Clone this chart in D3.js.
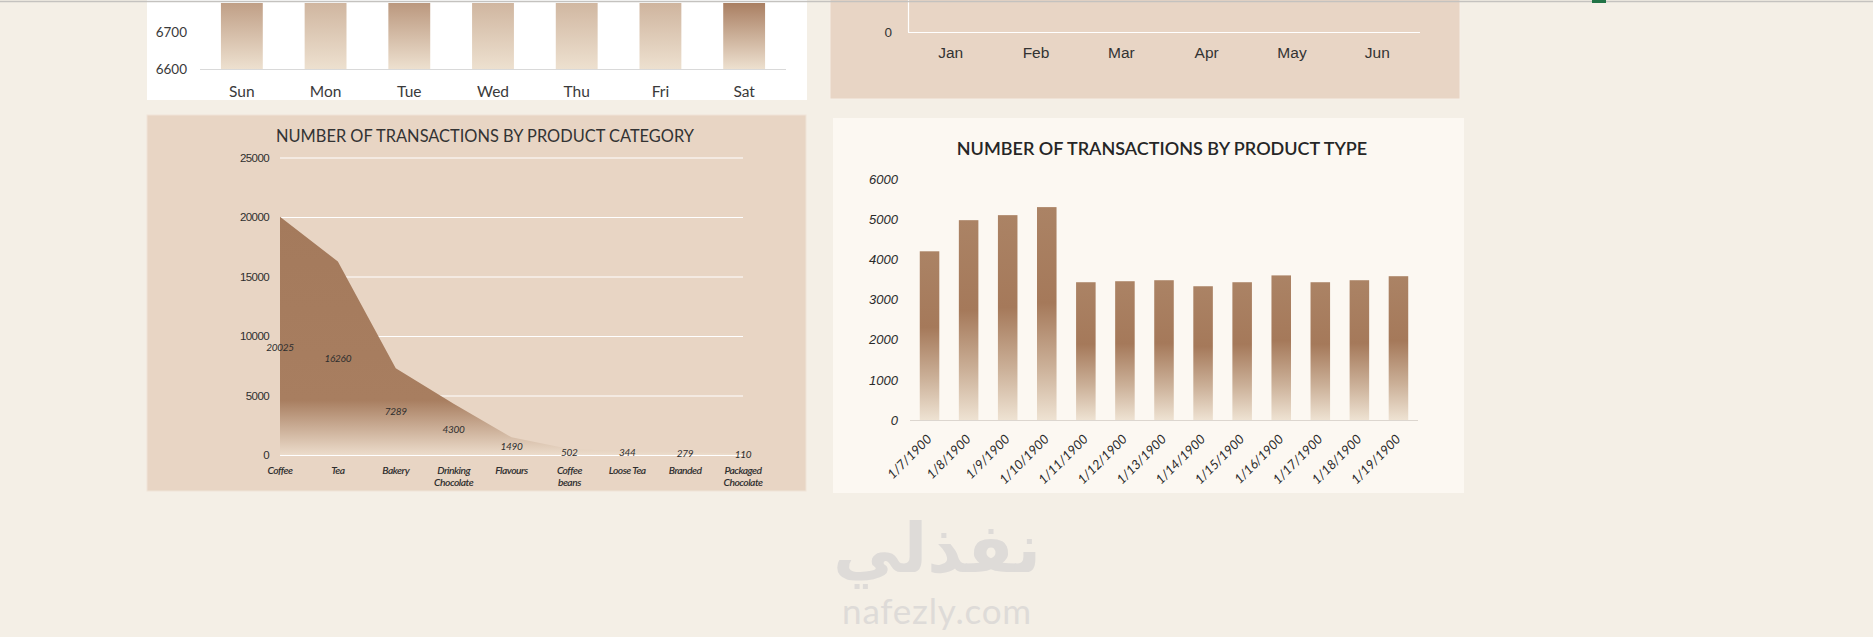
<!DOCTYPE html>
<html>
<head>
<meta charset="utf-8">
<script src="https://cdn.jsdelivr.net/npm/d3@7"></script>
<style>
  html, body { margin: 0; padding: 0; background: #f4efe6; overflow: hidden; }
  svg { display: block; font-family: Lato, "Open Sans", sans-serif; }
  .domain { display: none; }
</style>
</head>
<body>
<svg id="chart" width="1873" height="637"></svg>
<script>
// datos
const days = ["Sun", "Mon", "Tue", "Wed", "Thu", "Fri", "Sat"];
const dayCounts = [6990, 7200, 6950, 7200, 7220, 7180, 6860];
const dayTicks = [6600, 6700];

const months = ["Jan", "Feb", "Mar", "Apr", "May", "Jun"];
const monthTicks = [0];

const categories = ["Coffee", "Tea", "Bakery", "Drinking Chocolate", "Flavours",
  "Coffee beans", "Loose Tea", "Branded", "Packaged Chocolate"];
const categoryLines = [["Coffee"], ["Tea"], ["Bakery"], ["Drinking", "Chocolate"], ["Flavours"],
  ["Coffee", "beans"], ["Loose Tea"], ["Branded"], ["Packaged", "Chocolate"]];
const categoryCounts = [20025, 16260, 7289, 4300, 1490, 502, 344, 279, 110];
const categoryTicks = [0, 5000, 10000, 15000, 20000, 25000];

const productTypes = ["1/7/1900", "1/8/1900", "1/9/1900", "1/10/1900", "1/11/1900", "1/12/1900",
  "1/13/1900", "1/14/1900", "1/15/1900", "1/16/1900", "1/17/1900", "1/18/1900", "1/19/1900"];
const typeCounts = [4200, 4975, 5100, 5300, 3430, 3455, 3480, 3330, 3430, 3600, 3430, 3480, 3580];
const typeTicks = [0, 1000, 2000, 3000, 4000, 5000, 6000];

const svg = d3.select("#chart");
const defs = svg.append("defs");

svg.append("rect").attr("width", 1873).attr("height", 637).attr("fill", "#f4efe6");

// degradados
function grad(id, stops, attrs) {
  const g = defs.append("linearGradient").attr("id", id);
  Object.entries(attrs).forEach(([k, v]) => g.attr(k, v));
  stops.forEach(s => g.append("stop").attr("offset", s[0]).attr("stop-color", s[1]));
}
grad("dayGrad", [[0, "#8f5f40"], [0.3, "#a87d60"], [1, "#ede0cf"]], { x1: 0, y1: 0, x2: 0, y2: 1 });
grad("typeGrad", [[0, "#ab8365"], [0.45, "#a5795a"], [0.75, "#cbb098"], [1, "#eee2d2"]], { x1: 0, y1: 0, x2: 0, y2: 1 });

// ---------- panel superior izquierdo (dias) ----------
svg.append("rect").attr("x", 147).attr("y", -5).attr("width", 660).attr("height", 105).attr("fill", "#ffffff");
defs.append("clipPath").attr("id", "clipDays")
  .append("rect").attr("x", 147).attr("y", 3).attr("width", 660).attr("height", 97);

const xDay = d3.scaleBand().domain(days).range([200, 786]).paddingInner(0.5).paddingOuter(0.25);
const yDay = d3.scaleLinear().domain([6600, 6700]).range([69, 32]);

svg.append("g").attr("clip-path", "url(#clipDays)")
  .selectAll("rect").data(days).enter().append("rect")
  .attr("x", d => xDay(d))
  .attr("width", xDay.bandwidth())
  .attr("y", (d, i) => yDay(dayCounts[i]))
  .attr("height", (d, i) => 69 - yDay(dayCounts[i]))
  .attr("fill", "url(#dayGrad)");

svg.append("line").attr("x1", 200).attr("x2", 786).attr("y1", 69.5).attr("y2", 69.5)
  .attr("stroke", "#d9d9d9").attr("stroke-width", 1.2);

const yDayAxis = svg.append("g").attr("transform", "translate(200,0)")
  .call(d3.axisLeft(yDay).tickValues(dayTicks).tickSize(0).tickPadding(13).tickFormat(d3.format("d")));
yDayAxis.selectAll("text").attr("font-size", 13.5).attr("fill", "#3a3a3a").attr("font-family", "Lato");

const xDayAxis = svg.append("g").attr("transform", "translate(0,69)")
  .call(d3.axisBottom(xDay).tickSize(0).tickPadding(17));
xDayAxis.selectAll("text").attr("font-size", 15.5).attr("fill", "#3a3a3a").attr("font-family", "Lato");

// ---------- panel superior derecho (meses) ----------
svg.append("rect").attr("x", 830).attr("y", -5).attr("width", 630).attr("height", 104)
  .attr("fill", "#e8d5c5").attr("stroke", "#f6efe7").attr("stroke-width", 1);

const xMonth = d3.scaleBand().domain(months).range([908, 1420]);
const yMonth = d3.scaleLinear().domain([0, 10]).range([32, -100]);

svg.append("line").attr("x1", 908.5).attr("x2", 908.5).attr("y1", 0).attr("y2", yMonth(0))
  .attr("stroke", "#ffffff").attr("stroke-width", 1.2);
svg.append("line").attr("x1", 908).attr("x2", 1420).attr("y1", yMonth(0) + 0.5).attr("y2", yMonth(0) + 0.5)
  .attr("stroke", "#ffffff").attr("stroke-width", 1.2);

const yMonthAxis = svg.append("g").attr("transform", "translate(908,0)")
  .call(d3.axisLeft(yMonth).tickValues(monthTicks).tickSize(0).tickPadding(16));
yMonthAxis.selectAll("text").attr("font-size", 13.5).attr("fill", "#333333");

const xMonthAxis = svg.append("g").attr("transform", "translate(0,32)")
  .call(d3.axisBottom(xMonth).tickSize(0).tickPadding(15));
xMonthAxis.selectAll("text").attr("font-size", 15.5).attr("fill", "#333333");

// ---------- panel inferior izquierdo (categorias) ----------
svg.append("rect").attr("x", 147).attr("y", 115).attr("width", 659).attr("height", 376)
  .attr("fill", "#e8d5c4").attr("stroke", "#efe4d8").attr("stroke-width", 1);

svg.append("text").attr("x", 485).attr("y", 142).attr("text-anchor", "middle")
  .attr("font-size", 16.4).attr("fill", "#333333")
  .text("NUMBER OF TRANSACTIONS BY PRODUCT CATEGORY");

const xCat = d3.scalePoint().domain(categories).range([280, 743]);
const yCat = d3.scaleLinear().domain([0, 25000]).range([455, 157.5]);

grad("areaGrad", [[0, "#a47a5c"], [0.77, "#a87e60"], [1, "#ecdccb"]],
  { gradientUnits: "userSpaceOnUse", x1: 0, y1: yCat(20025), x2: 0, y2: yCat(0) });

svg.append("g").selectAll("line").data(categoryTicks).enter().append("line")
  .attr("x1", 280).attr("x2", 743)
  .attr("y1", d => yCat(d) + 0.5).attr("y2", d => yCat(d) + 0.5)
  .attr("stroke", "#ffffff").attr("stroke-width", 1.2);

const area = d3.area()
  .x((d, i) => xCat(categories[i]))
  .y0(yCat(0))
  .y1(d => yCat(d));

svg.append("path").datum(categoryCounts).attr("d", area).attr("fill", "url(#areaGrad)");

// etiquetas al centro del area; la primera baja un poco para no chocar con el eje
svg.append("g").selectAll("text").data(categoryCounts).enter().append("text")
  .attr("x", (d, i) => xCat(categories[i]))
  .attr("y", (d, i) => yCat(d / 2) + 3.5 + (i === 0 ? 12 : 0))
  .attr("text-anchor", "middle")
  .attr("font-size", 10).attr("font-style", "italic").attr("fill", "#2e2e2e")
  .attr("letter-spacing", -0.3)
  .text(d => d);

const yCatAxis = svg.append("g").attr("transform", "translate(280,0)")
  .call(d3.axisLeft(yCat).tickValues(categoryTicks).tickSize(0).tickPadding(11).tickFormat(d3.format("d")));
yCatAxis.selectAll("text").attr("font-size", 11.5).attr("fill", "#2e2e2e").attr("letter-spacing", -0.6);

const catLabels = svg.append("g").selectAll("text").data(categoryLines).enter().append("text")
  .attr("x", (d, i) => xCat(categories[i]))
  .attr("y", 473.5)
  .attr("text-anchor", "middle")
  .attr("font-size", 10.3).attr("font-style", "italic").attr("font-weight", 600)
  .attr("fill", "#2e2e2e").attr("letter-spacing", -0.5);
catLabels.selectAll("tspan").data(d => d).enter().append("tspan")
  .attr("x", function () { return d3.select(this.parentNode).attr("x"); })
  .attr("dy", (d, i) => i === 0 ? 0 : 12)
  .text(d => d);

// ---------- panel inferior derecho (tipos) ----------
svg.append("rect").attr("x", 833).attr("y", 118).attr("width", 631).attr("height", 375)
  .attr("fill", "#fcf8f2");

svg.append("text").attr("x", 1162).attr("y", 155).attr("text-anchor", "middle")
  .attr("font-size", 18).attr("font-weight", 600).attr("fill", "#262626")
  .text("NUMBER OF TRANSACTIONS BY PRODUCT TYPE");

const xType = d3.scaleBand().domain(productTypes).range([910, 1418]).paddingInner(0.5).paddingOuter(0.25);
const yType = d3.scaleLinear().domain([0, 6000]).range([420, 179]);

svg.append("g").selectAll("rect").data(productTypes).enter().append("rect")
  .attr("x", d => xType(d))
  .attr("width", xType.bandwidth())
  .attr("y", (d, i) => yType(typeCounts[i]))
  .attr("height", (d, i) => yType(0) - yType(typeCounts[i]))
  .attr("fill", "url(#typeGrad)");

svg.append("line").attr("x1", 910).attr("x2", 1418).attr("y1", 420.5).attr("y2", 420.5)
  .attr("stroke", "#dcd6cf").attr("stroke-width", 1.2);

const yTypeAxis = svg.append("g").attr("transform", "translate(910,0)")
  .call(d3.axisLeft(yType).tickValues(typeTicks).tickSize(0).tickPadding(12).tickFormat(d3.format("d")));
yTypeAxis.selectAll("text").attr("font-size", 13).attr("font-style", "italic").attr("fill", "#2a2a2a");

svg.append("g").selectAll("text").data(productTypes).enter().append("text")
  .attr("transform", d => `translate(${xType(d) + xType.bandwidth() / 2 + 3},${440}) rotate(-45)`)
  .attr("text-anchor", "end")
  .attr("font-size", 13).attr("font-style", "italic").attr("fill", "#2a2a2a")
  .text(d => d);

// ---------- linea superior tipo hoja de calculo ----------
svg.append("line").attr("x1", 0).attr("x2", 1873).attr("y1", 1.5).attr("y2", 1.5)
  .attr("stroke", "#c4c2bf").attr("stroke-width", 1.5);
svg.append("rect").attr("x", 1592).attr("y", 0).attr("width", 14).attr("height", 3).attr("fill", "#217346");

// ---------- marca de agua ----------
svg.append("text").attr("x", 937).attr("y", 572).attr("text-anchor", "middle")
  .attr("font-family", "DejaVu Sans").attr("font-weight", "bold").attr("font-size", 68)
  .attr("fill", "#dedbd8").text("نفذلي");
svg.append("text").attr("x", 937).attr("y", 624).attr("text-anchor", "middle")
  .attr("font-family", "Lato").attr("font-size", 35).attr("letter-spacing", 0.8)
  .attr("fill", "#dedbd8").text("nafezly.com");
</script>
</body>
</html>
